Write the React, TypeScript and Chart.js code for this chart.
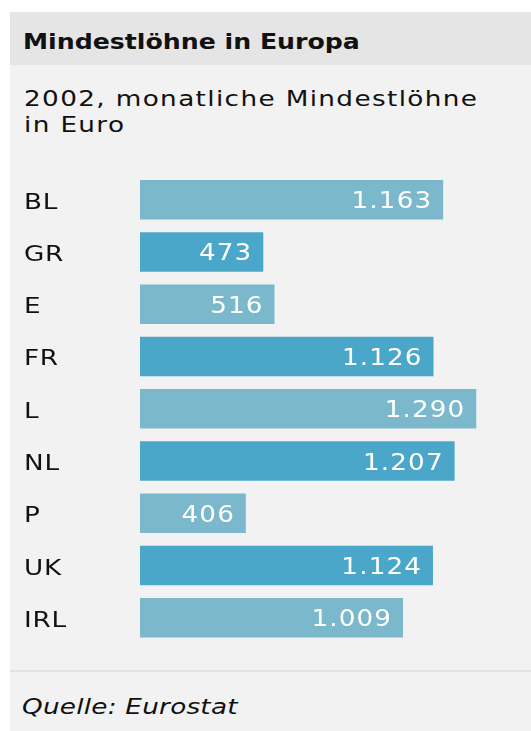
import React, { useEffect, useRef } from "react";
import { Chart, registerables } from "chart.js";

Chart.register(...registerables);

const TITLE = "Mindestlöhne in Europa";
const SUBTITLE_LINES = ["2002, monatliche Mindestlöhne", "in Euro"];
const SOURCE = "Quelle: Eurostat";

const countries = ["BL", "GR", "E", "FR", "L", "NL", "P", "UK", "IRL"];
const wages = [1163, 473, 516, 1126, 1290, 1207, 406, 1124, 1009];

const LIGHT = "#7bb8cc";
const DARK = "#4ba7ca";
const FONT = "'DejaVu Sans', Verdana, sans-serif";

function fmt(v: number): string {
  const s = String(Math.round(v));
  return s.replace(/\B(?=(\d{3})+(?!\d))/g, ".");
}

const textPlugin = {
  id: "textPlugin",
  afterDatasetsDraw(chart: any) {
    const ctx = chart.ctx;
    // category labels, positioned by the y scale
    const ys = chart.scales.y;
    ctx.save();
    ctx.font = `21px ${FONT}`;
    ctx.letterSpacing = "0.6px";
    ctx.fillStyle = "#111111";
    ctx.textAlign = "left";
    ctx.textBaseline = "alphabetic";
    ys.ticks.forEach((t: any, i: number) => {
      const y = ys.getPixelForTick(i);
      const label = String(chart.data.labels[i]);
      ctx.save();
      ctx.translate(14, y + 9);
      ctx.scale(1.25, 1);
      ctx.fillText(label, 0, 0);
      ctx.restore();
    });
    ctx.restore();

    // value labels inside the bars
    const meta = chart.getDatasetMeta(0);
    ctx.save();
    ctx.font = `23px ${FONT}`;
    ctx.letterSpacing = "1px";
    ctx.fillStyle = "#ffffff";
    ctx.textAlign = "right";
    ctx.textBaseline = "alphabetic";
    meta.data.forEach((bar: any, i: number) => {
      ctx.save();
      ctx.translate(bar.x - 12, bar.y + 8.5);
      ctx.scale(1.14, 1);
      ctx.fillText(fmt(wages[i]), 1, 0);
      ctx.restore();
    });
    ctx.restore();
  },
};

export default function App() {
  const ref = useRef<HTMLCanvasElement | null>(null);

  useEffect(() => {
    if (!ref.current) return;
    const chart = new Chart(ref.current, {
      type: "bar",
      data: {
        labels: countries,
        datasets: [
          {
            data: wages,
            backgroundColor: (c: any) => (c.dataIndex % 2 === 0 ? LIGHT : DARK),
            borderWidth: 0,
            barPercentage: 0.756,
            categoryPercentage: 1,
          },
        ],
      },
      options: {
        indexAxis: "y",
        animation: false,
        responsive: false,
        maintainAspectRatio: false,
        layout: { padding: { left: 14, top: 23.6, bottom: 26.1, right: 0 } },
        plugins: {
          legend: { display: false },
          tooltip: { enabled: false },
          title: { display: false },
        },
        scales: {
          x: { display: false, min: 0, max: 1500 },
          y: {
            grid: { display: false },
            border: { display: false },
            afterFit: (s: any) => {
              s.width = 116;
            },
            ticks: { display: false },
          },
        },
      },
      plugins: [textPlugin],
    });
    return () => chart.destroy();
  }, []);

  const txt: React.CSSProperties = {
    position: "absolute",
    fontFamily: FONT,
    fontSize: 21,
    color: "#111111",
    whiteSpace: "nowrap",
    margin: 0,
    transformOrigin: "0 0",
  };

  return (
    <div style={{ position: "absolute", left: 0, top: 0, width: 531, height: 731 }}>
      <div
        style={{
          position: "absolute",
          left: 10,
          top: 12,
          width: 521,
          height: 719,
          background: "#f2f2f2",
        }}
      />
      <div
        style={{
          position: "absolute",
          left: 10,
          top: 12,
          width: 521,
          height: 53,
          background: "#e5e5e5",
        }}
      />
      <div
        style={{
          ...txt,
          left: 23,
          top: 28.8,
          lineHeight: "26px",
          fontWeight: "bold",
          letterSpacing: "0px",
          transform: "scaleX(1.2)",
        }}
      >
        {TITLE}
      </div>
      <div
        style={{
          ...txt,
          left: 23.5,
          top: 86.4,
          lineHeight: "26px",
          letterSpacing: "1.1px",
          transform: "scaleX(1.25)",
        }}
      >
        {SUBTITLE_LINES.map((l, i) => (
          <div key={i}>{l}</div>
        ))}
      </div>
      <canvas
        ref={ref}
        width={521}
        height={520}
        style={{ position: "absolute", left: 10, top: 150, width: 521, height: 520 }}
      />
      <div
        style={{
          position: "absolute",
          left: 10,
          top: 670,
          width: 521,
          height: 2,
          background: "#e3e3e3",
        }}
      />
      <div
        style={{
          ...txt,
          left: 22,
          top: 694,
          lineHeight: "26px",
          fontStyle: "italic",
          letterSpacing: "0.2px",
          transform: "scaleX(1.25)",
        }}
      >
        {SOURCE}
      </div>
    </div>
  );
}
